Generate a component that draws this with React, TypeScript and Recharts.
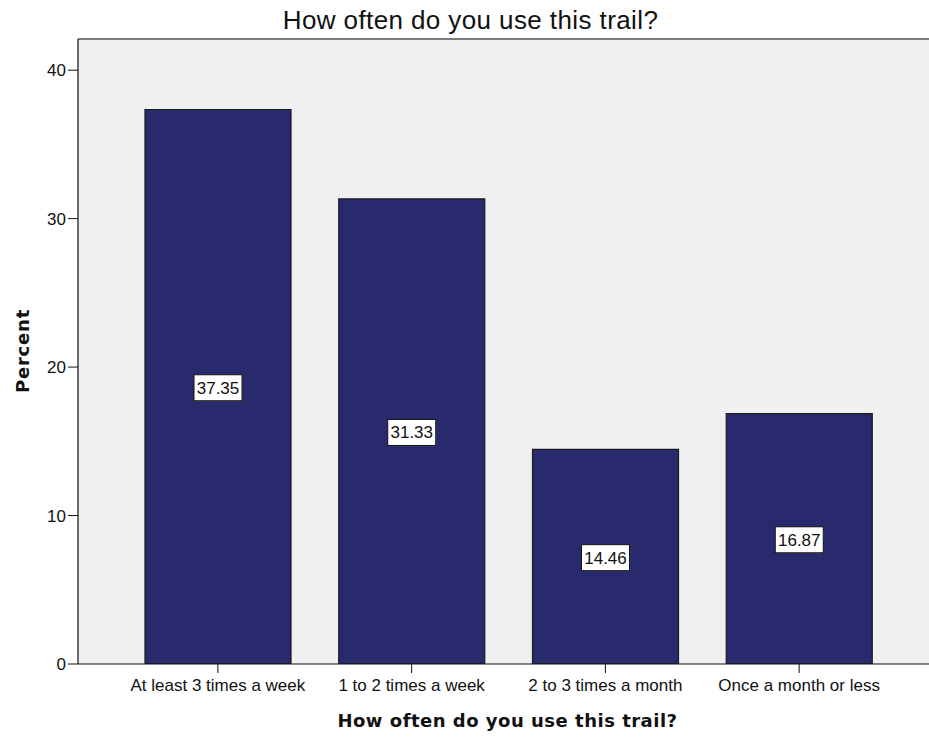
import React from 'react';
import { BarChart, Bar, XAxis, YAxis, CartesianGrid, ReferenceLine, LabelList } from 'recharts';

const categories = ['At least 3 times a week', '1 to 2 times a week', '2 to 3 times a month', 'Once a month or less'];
const percents = [37.35, 31.33, 14.46, 16.87];
const yTicks = [0, 10, 20, 30, 40];
const title = 'How often do you use this trail?';
const xTitle = 'How often do you use this trail?';
const yTitle = 'Percent';

const data = categories.map((c, i) => ({ name: c, value: percents[i] }));

const Y_MAX = 42.1;
const SANS = '"Liberation Sans", Arial, sans-serif';
const BOLD = '"DejaVu Sans", Verdana, sans-serif';

const ValueLabel = (props: any) => {
  const { x, y, width, height, value } = props;
  const cx = x + width / 2;
  const cy = y + height / 2 + 1;
  const w = 48;
  const h = 26;
  return (
    <g>
      <rect x={cx - w / 2 + 1} y={cy - h / 2 + 1} width={w} height={h} fill="#555" opacity={0.5} />
      <rect x={cx - w / 2} y={cy - h / 2} width={w} height={h} fill="#ffffff" stroke="#111" strokeWidth={1} />
      <text x={cx} y={cy + 6} textAnchor="middle" fontFamily={SANS} fontSize={17} fill="#111">
        {Number(value).toFixed(2)}
      </text>
    </g>
  );
};

export default function App() {
  return (
    <div style={{ position: 'absolute', left: 0, top: 0, width: 929, height: 738, background: '#fff' }}>
      <BarChart
        width={929}
        height={738}
        data={data}
        margin={{ top: 39, right: 0, bottom: 0, left: 0 }}
      >
        <CartesianGrid fill="#F0F0F0" horizontal={false} vertical={false} />
        <ReferenceLine y={Y_MAX} stroke="#555" strokeWidth={1.5} ifOverflow="extendDomain" />
        <XAxis
          dataKey="name"
          height={74}
          padding={{ left: 43, right: 33 }}
          tickSize={9}
          tickMargin={6}
          axisLine={{ stroke: '#111', strokeWidth: 1.2 }}
          tickLine={{ stroke: '#111' }}
          tick={{ fill: '#111', fontFamily: SANS, fontSize: 17 }}
          interval={0}
        />
        <YAxis
          width={78}
          domain={[0, Y_MAX]}
          ticks={yTicks}
          tickSize={10}
          tickMargin={2}
          allowDataOverflow
          axisLine={{ stroke: '#111', strokeWidth: 1.2 }}
          tickLine={{ stroke: '#111' }}
          tick={{ fill: '#111', fontFamily: SANS, fontSize: 17 }}
        />
        <Bar dataKey="value" fill="#292A6E" stroke="#1a1a1a" strokeWidth={1.2} barSize={146} isAnimationActive={false}>
          <LabelList dataKey="value" content={ValueLabel} />
        </Bar>
      </BarChart>
      <svg
        width={929}
        height={738}
        style={{ position: 'absolute', left: 0, top: 0, pointerEvents: 'none' }}
      >
        <text x={470.5} y={28.5} textAnchor="middle" fontFamily={SANS} fontSize={26} letterSpacing={0.4} fill="#111">
          {title}
        </text>
        <text x={507.5} y={727} textAnchor="middle" fontFamily={BOLD} fontWeight="bold" fontSize={18} letterSpacing={0.5} fill="#111">
          {xTitle}
        </text>
        <text
          x={29}
          y={351}
          textAnchor="middle"
          transform="rotate(-90 29 351)"
          fontFamily={BOLD}
          fontWeight="bold"
          fontSize={18}
          letterSpacing={0.8}
          fill="#111"
        >
          {yTitle}
        </text>
      </svg>
    </div>
  );
}
